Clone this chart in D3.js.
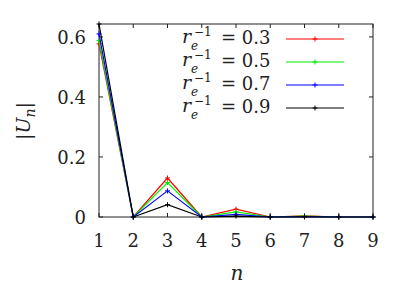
<!DOCTYPE html>
<html>
<head>
<meta charset="utf-8">
<script src="https://cdn.jsdelivr.net/npm/d3@7"></script>
<style>
  body { margin: 0; background: #fff; }
  svg text { font-family: "DejaVu Serif", serif; fill: #222; }
</style>
</head>
<body>
<div id="chart"></div>
<script>
// data
const nValues = [1, 2, 3, 4, 5, 6, 7, 8, 9];
const red03 = [0.577, 0, 0.130, 0, 0.026, 0, 0.004, 0, 0];
const green05 = [0.588, 0, 0.115, 0, 0.017, 0, 0.003, 0, 0];
const blue07 = [0.610, 0, 0.087, 0, 0.009, 0, 0.001, 0, 0];
const black09 = [0.643, 0, 0.041, 0, 0.003, 0, 0.0003, 0, 0];
const legendLabels = ['0.3', '0.5', '0.7', '0.9'];
const seriesColors = ['#ff0000', '#00ee00', '#0000ff', '#000000'];
const yTicks = [0, 0.2, 0.4, 0.6];

const series = [red03, green05, blue07, black09];

const width = 415, height = 292;
const plotL = 99, plotR = 373, plotT = 24, plotB = 217;

const svg = d3.select('#chart').append('svg')
  .attr('width', width)
  .attr('height', height);

const x = d3.scaleLinear().domain([1, 9]).range([plotL, plotR]);
const y = d3.scaleLinear().domain([0, 0.643]).range([plotB, plotT]);

// frame
svg.append('rect')
  .attr('x', plotL).attr('y', plotT)
  .attr('width', plotR - plotL).attr('height', plotB - plotT)
  .attr('fill', 'none').attr('stroke', '#222').attr('stroke-width', 1);

const tickLen = 4;
// x ticks (bottom + mirrored on top)
nValues.forEach(n => {
  svg.append('line').attr('x1', x(n)).attr('x2', x(n))
    .attr('y1', plotB).attr('y2', plotB - tickLen).attr('stroke', '#222');
  svg.append('line').attr('x1', x(n)).attr('x2', x(n))
    .attr('y1', plotT).attr('y2', plotT + tickLen).attr('stroke', '#222');
  svg.append('text').attr('x', x(n)).attr('y', plotB + 30)
    .attr('text-anchor', 'middle').attr('font-size', 18).text(n);
});

// y ticks
yTicks.forEach(t => {
  svg.append('line').attr('x1', plotL).attr('x2', plotL + tickLen)
    .attr('y1', y(t)).attr('y2', y(t)).attr('stroke', '#222');
  svg.append('line').attr('x1', plotR).attr('x2', plotR - tickLen)
    .attr('y1', y(t)).attr('y2', y(t)).attr('stroke', '#222');
  svg.append('text').attr('x', 86).attr('y', y(t) + 7)
    .attr('text-anchor', 'end').attr('font-size', 18).text(t === 0 ? '0' : t.toFixed(1));
});

// axis titles
svg.append('text').attr('x', 237).attr('y', 280)
  .attr('text-anchor', 'middle').attr('font-size', 20)
  .attr('font-style', 'italic').text('n');

const ylab = svg.append('text')
  .attr('transform', 'translate(30,121) rotate(-90)')
  .attr('text-anchor', 'middle').attr('font-size', 19);
ylab.append('tspan').text('|');
ylab.append('tspan').attr('font-style', 'italic').text('U');
ylab.append('tspan').attr('font-style', 'italic').attr('font-size', 14).attr('dy', 5).text('n');
ylab.append('tspan').attr('dy', -5).text('|');

// lines + markers
const line = d3.line()
  .x((d, i) => x(nValues[i]))
  .y(d => y(d));

const ms = 2.5;
series.forEach((vals, k) => {
  svg.append('path').datum(vals)
    .attr('d', line)
    .attr('fill', 'none')
    .attr('stroke', seriesColors[k])
    .attr('stroke-width', 1.2);
  svg.selectAll(null).data(vals).enter().append('path')
    .attr('d', (d, i) => {
      const px = x(nValues[i]), py = y(d);
      return `M${px - ms},${py}H${px + ms}M${px},${py - ms}V${py + ms}`;
    })
    .attr('stroke', seriesColors[k]).attr('stroke-width', 1);
});

// legend
legendLabels.forEach((lab, k) => {
  const ly = 39 + k * 23;
  const g = svg.append('g');
  g.append('text').attr('x', 182).attr('y', ly + 4)
    .attr('font-size', 19).attr('font-style', 'italic').text('r');
  g.append('text').attr('x', 194).attr('y', ly - 3)
    .attr('font-size', 12).text('\u22121');
  g.append('text').attr('x', 191).attr('y', ly + 11)
    .attr('font-size', 12).attr('font-style', 'italic').text('e');
  g.append('text').attr('x', 221).attr('y', ly + 5)
    .attr('font-size', 18).text('= ' + lab);
  g.append('line').attr('x1', 286).attr('x2', 344)
    .attr('y1', ly).attr('y2', ly)
    .attr('stroke', seriesColors[k]).attr('stroke-width', 1.2);
  g.append('path')
    .attr('d', `M${315 - ms},${ly}H${315 + ms}M315,${ly - ms}V${ly + ms}`)
    .attr('stroke', seriesColors[k]).attr('stroke-width', 1);
});
</script>
</body>
</html>
